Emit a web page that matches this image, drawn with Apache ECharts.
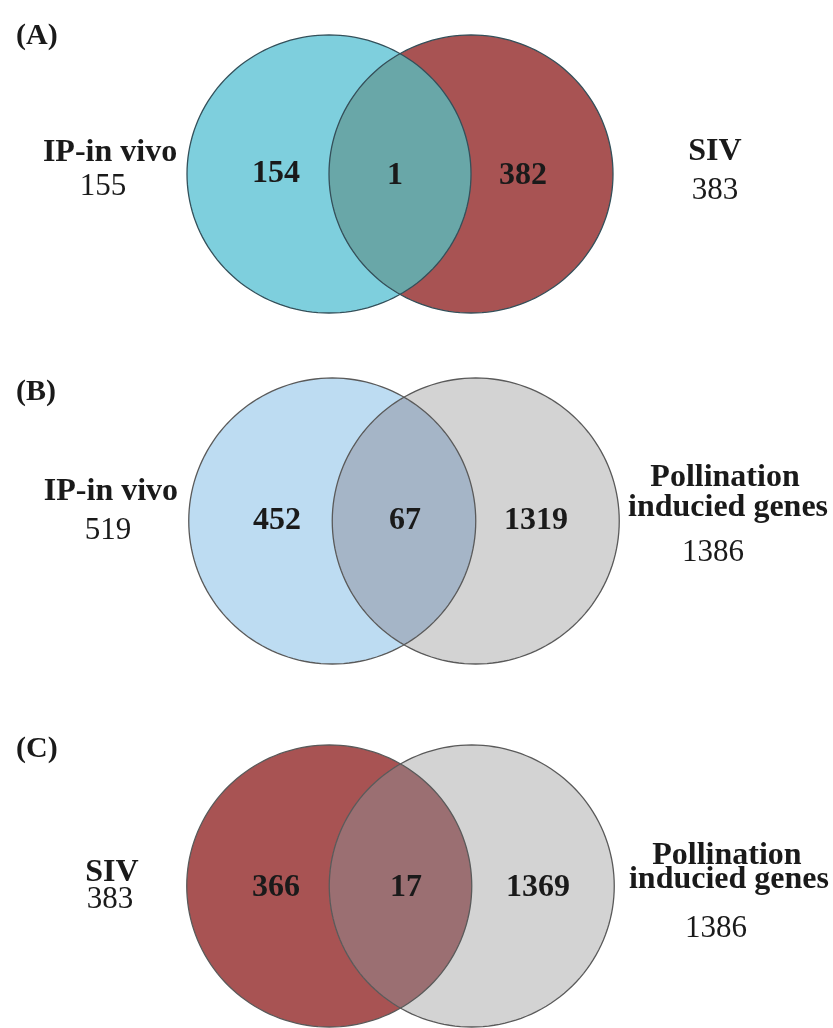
<!DOCTYPE html>
<html>
<head>
<meta charset="utf-8">
<script src="https://cdn.jsdelivr.net/npm/echarts@6/dist/echarts.min.js"></script>
<style>html,body{margin:0;padding:0;background:#fff;}#c{width:833px;height:1028px;}</style>
</head>
<body>
<div id="c"></div>
<script>
// ---- data ----
const panelLetters = ['(A)', '(B)', '(C)'];
const leftSetNames = [['IP-in vivo'], ['IP-in vivo'], ['SIV']];
const rightSetNames = [['SIV'], ['Pollination', 'inducied genes'], ['Pollination', 'inducied genes']];
const leftTotals = [155, 519, 383];
const rightTotals = [383, 1386, 1386];
const leftOnly = [154, 452, 366];
const overlap = [1, 67, 17];
const rightOnly = [382, 1319, 1369];

// ---- style ----
const leftColors = ['#7ecfdd', '#bddcf2', '#a85353'];
const overlapColors = ['#69a7a8', '#a5b5c7', '#9b6f72'];
const rightColors = ['#a85353', '#d3d3d3', '#d3d3d3'];
const strokeColors = ['#34505a', '#5a5a5a', '#5a5a5a'];
const FONT = '"Liberation Serif","Times New Roman",serif';
const FS_BOLD = 32;
const FS_REG = 31;
const FS_LETTER = 30;

// ---- layout (pixels for panel frames, units inside) ----
const frames = [
  {mx: 400, cy: 174, rx: 142, ry: 139, letterY: 32},
  {mx: 404, cy: 521, rx: 143.5, ry: 143, letterY: 388},
  {mx: 400.5, cy: 886, rx: 142.5, ry: 141, letterY: 745}
];
// label positions in axis units
const countPos = [
  [[-0.873, 0.0], [-0.035, -0.01], [0.866, -0.01]],
  [[-0.885, 0.0], [0.007, 0.0], [0.92, 0.0]],
  [[-0.874, -0.014], [0.039, -0.014], [0.965, -0.014]]
];
const leftNamePos = [[[-2.042, 0.151]], [[-2.042, 0.203]], [[-2.025, 0.092]]];
const leftTotalPos = [[-2.092, -0.094], [-2.063, -0.07], [-2.039, -0.099]];
const rightNamePos = [[[2.218, 0.158]], [[2.237, 0.301], [2.258, 0.094]], [[2.291, 0.213], [2.305, 0.043]]];
const rightTotalPos = [[2.218, -0.122], [2.153, -0.224], [2.214, -0.305]];

function ellipsePts(api, cu, t0, t1, n) {
  const pts = [];
  for (let i = 0; i <= n; i++) {
    const t = t0 + (t1 - t0) * i / n;
    pts.push(api.coord([cu + Math.cos(t), Math.sin(t)]));
  }
  return pts;
}

const grids = [], xAxes = [], yAxes = [], series = [], titles = [];
frames.forEach((f, p) => {
  grids.push({left: f.mx - 2.5 * f.rx, width: 5 * f.rx, top: f.cy - f.ry, height: 2 * f.ry, containLabel: false});
  xAxes.push({type: 'value', gridIndex: p, min: -2.5, max: 2.5, show: false});
  yAxes.push({type: 'value', gridIndex: p, min: -1, max: 1, show: false});
  titles.push({text: panelLetters[p], left: 11, top: f.letterY - FS_LETTER / 2 - 1,
    textStyle: {fontFamily: FONT, fontSize: FS_LETTER, fontWeight: 'bold', color: '#1a1a1a'}});

  const regionCounts = [leftOnly[p], overlap[p], rightOnly[p]];
  const fills = [leftColors[p], overlapColors[p], rightColors[p]];
  const stroke = strokeColors[p];
  // regions: 0 left set, 1 intersection, 2 right set
  series.push({
    type: 'custom', coordinateSystem: 'cartesian2d', xAxisIndex: p, yAxisIndex: p,
    silent: true, clip: false,
    data: regionCounts.map((v, i) => [countPos[p][i][0], countPos[p][i][1], v]),
    renderItem: function (params, api) {
      const i = params.dataIndex;
      const children = [];
      if (i === 0 || i === 2) {
        const cu = i === 0 ? -0.5 : 0.5;
        const pts = ellipsePts(api, cu, 0, Math.PI * 2, 160);
        children.push({type: 'polygon', z2: 1, shape: {points: pts}, style: {fill: fills[i], stroke: null}});
        children.push({type: 'polyline', z2: 3, shape: {points: pts}, style: {fill: null, stroke: stroke, lineWidth: 1.3}});
      } else {
        const a = ellipsePts(api, -0.5, -Math.PI / 3, Math.PI / 3, 60);
        const b = ellipsePts(api, 0.5, 2 * Math.PI / 3, 4 * Math.PI / 3, 60);
        children.push({type: 'polygon', z2: 2, shape: {points: a.concat(b)}, style: {fill: fills[i], stroke: null}});
      }
      const c = api.coord([api.value(0), api.value(1)]);
      children.push({type: 'text', z2: 4, x: c[0], y: c[1],
        style: {text: String(api.value(2)), fill: '#1a1a1a', font: 'bold ' + FS_BOLD + 'px ' + FONT, align: 'center', verticalAlign: 'middle'}});
      return {type: 'group', children: children};
    }
  });
  // set names and totals
  const labelData = [];
  leftSetNames[p].forEach((t, k) => labelData.push([leftNamePos[p][k][0], leftNamePos[p][k][1], t, 1]));
  labelData.push([leftTotalPos[p][0], leftTotalPos[p][1], String(leftTotals[p]), 0]);
  rightSetNames[p].forEach((t, k) => labelData.push([rightNamePos[p][k][0], rightNamePos[p][k][1], t, 1]));
  labelData.push([rightTotalPos[p][0], rightTotalPos[p][1], String(rightTotals[p]), 0]);
  series.push({
    type: 'custom', coordinateSystem: 'cartesian2d', xAxisIndex: p, yAxisIndex: p,
    silent: true, clip: false,
    data: labelData,
    dimensions: ['x', 'y', 'label', 'bold'],
    encode: {x: 0, y: 1},
    renderItem: function (params, api) {
      const d = labelData[params.dataIndex];
      const c = api.coord([d[0], d[1]]);
      return {type: 'text', x: c[0], y: c[1],
        style: {text: d[2], fill: '#1a1a1a',
          font: (d[3] ? 'bold ' + FS_BOLD : FS_REG) + 'px ' + FONT, align: 'center', verticalAlign: 'middle'}};
    }
  });
});

const chart = echarts.init(document.getElementById('c'), null, {renderer: 'canvas'});
chart.setOption({
  animation: false,
  backgroundColor: '#ffffff',
  title: titles,
  grid: grids,
  xAxis: xAxes,
  yAxis: yAxes,
  series: series
});
</script>
</body>
</html>
